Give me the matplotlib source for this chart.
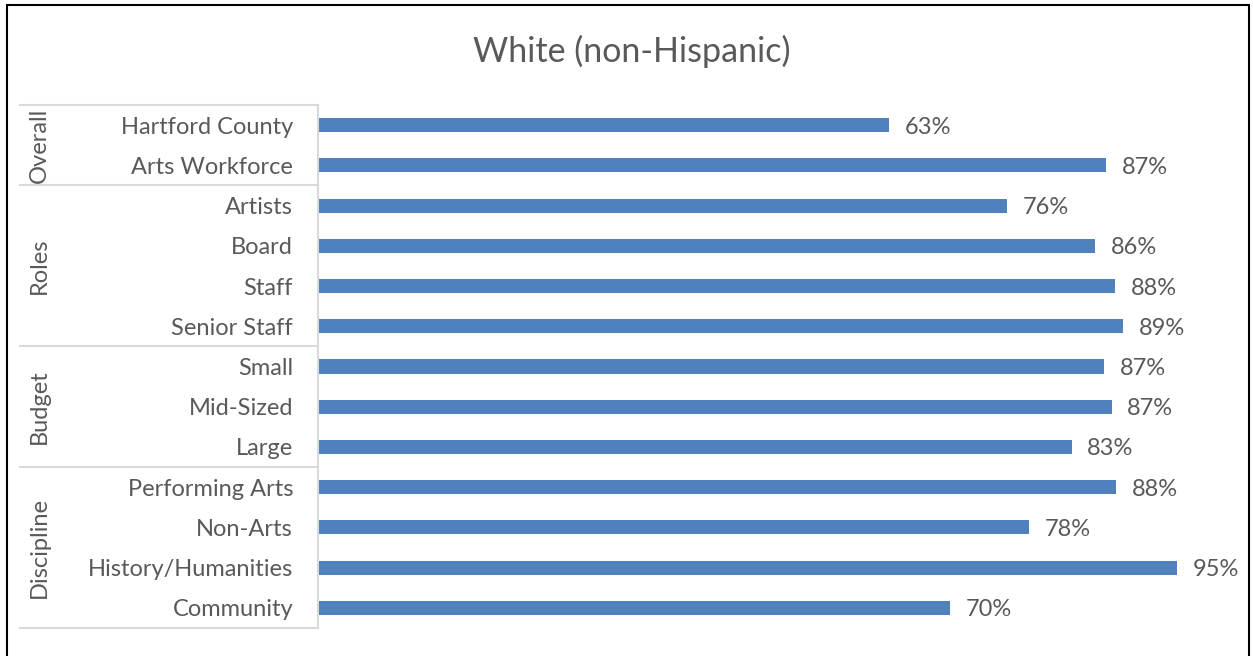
import matplotlib.pyplot as plt
from matplotlib.patches import Rectangle

categories = ["Hartford County", "Arts Workforce", "Artists", "Board", "Staff",
              "Senior Staff", "Small", "Mid-Sized", "Large", "Performing Arts",
              "Non-Arts", "History/Humanities", "Community"]
values = [62.9, 86.8, 75.9, 85.6, 87.8, 88.7, 86.6, 87.4, 83.0, 87.9, 78.3, 94.6, 69.6]
groups = ["Overall", "Roles", "Budget", "Discipline"]
group_sizes = [2, 4, 3, 4]

GREY = "#595959"
LINE = "#d9d9d9"


def main():
    plt.rcParams['font.family'] = ['Lato', 'DejaVu Sans']
    fig = plt.figure(figsize=(12.53, 6.56), dpi=100)
    ax = fig.add_axes([318 / 1253, 1 - 628 / 656, 908 / 1253, 523 / 656])

    y = list(range(len(categories)))
    ax.barh(y, [v / 100 for v in values], height=0.35, color="#4f81bd")
    ax.set_xlim(0, 1.0)
    ax.set_ylim(len(categories) - 0.5, -0.5)

    for yi, v in zip(y, values):
        ax.text(v / 100 + 0.017, yi + 0.05, "{:.0f}%".format(v), va="center", ha="left",
                fontsize=17, color=GREY)

    ax.set_yticks(y)
    ax.set_yticklabels(categories, fontsize=17, color=GREY)
    ax.tick_params(axis="y", length=0, pad=18)
    ax.set_xticks([])
    for s in ["top", "right", "bottom"]:
        ax.spines[s].set_visible(False)
    ax.spines["left"].set_color(LINE)
    ax.spines["left"].set_linewidth(1.5)

    # group separators and labels
    trans = ax.get_yaxis_transform()
    x_left = (20 - 318) / 908
    start = -0.5
    ax.plot([x_left, 0], [start, start], color=LINE, lw=1.5, transform=trans, clip_on=False)
    for name, n in zip(groups, group_sizes):
        end = start + n
        ax.plot([x_left, 0], [end, end], color=LINE, lw=1.5, transform=trans, clip_on=False)
        ax.text((39 - 318) / 908, (start + end) / 2, name, rotation=90, ha="center",
                va="center", fontsize=17, color=GREY, transform=trans)
        start = end

    fig.text(632 / 1253, 1 - 51 / 656, "White (non-Hispanic)", ha="center", va="center",
             fontsize=24.5, color=GREY)

    fig.patches.append(Rectangle((7 / 1253, -0.05), 1242 / 1253, 1.05 - 5 / 656,
                                 fill=False, edgecolor="black", lw=1.5,
                                 transform=fig.transFigure))

    fig.savefig("out.png", dpi=100)


if __name__ == '__main__':
    main()
